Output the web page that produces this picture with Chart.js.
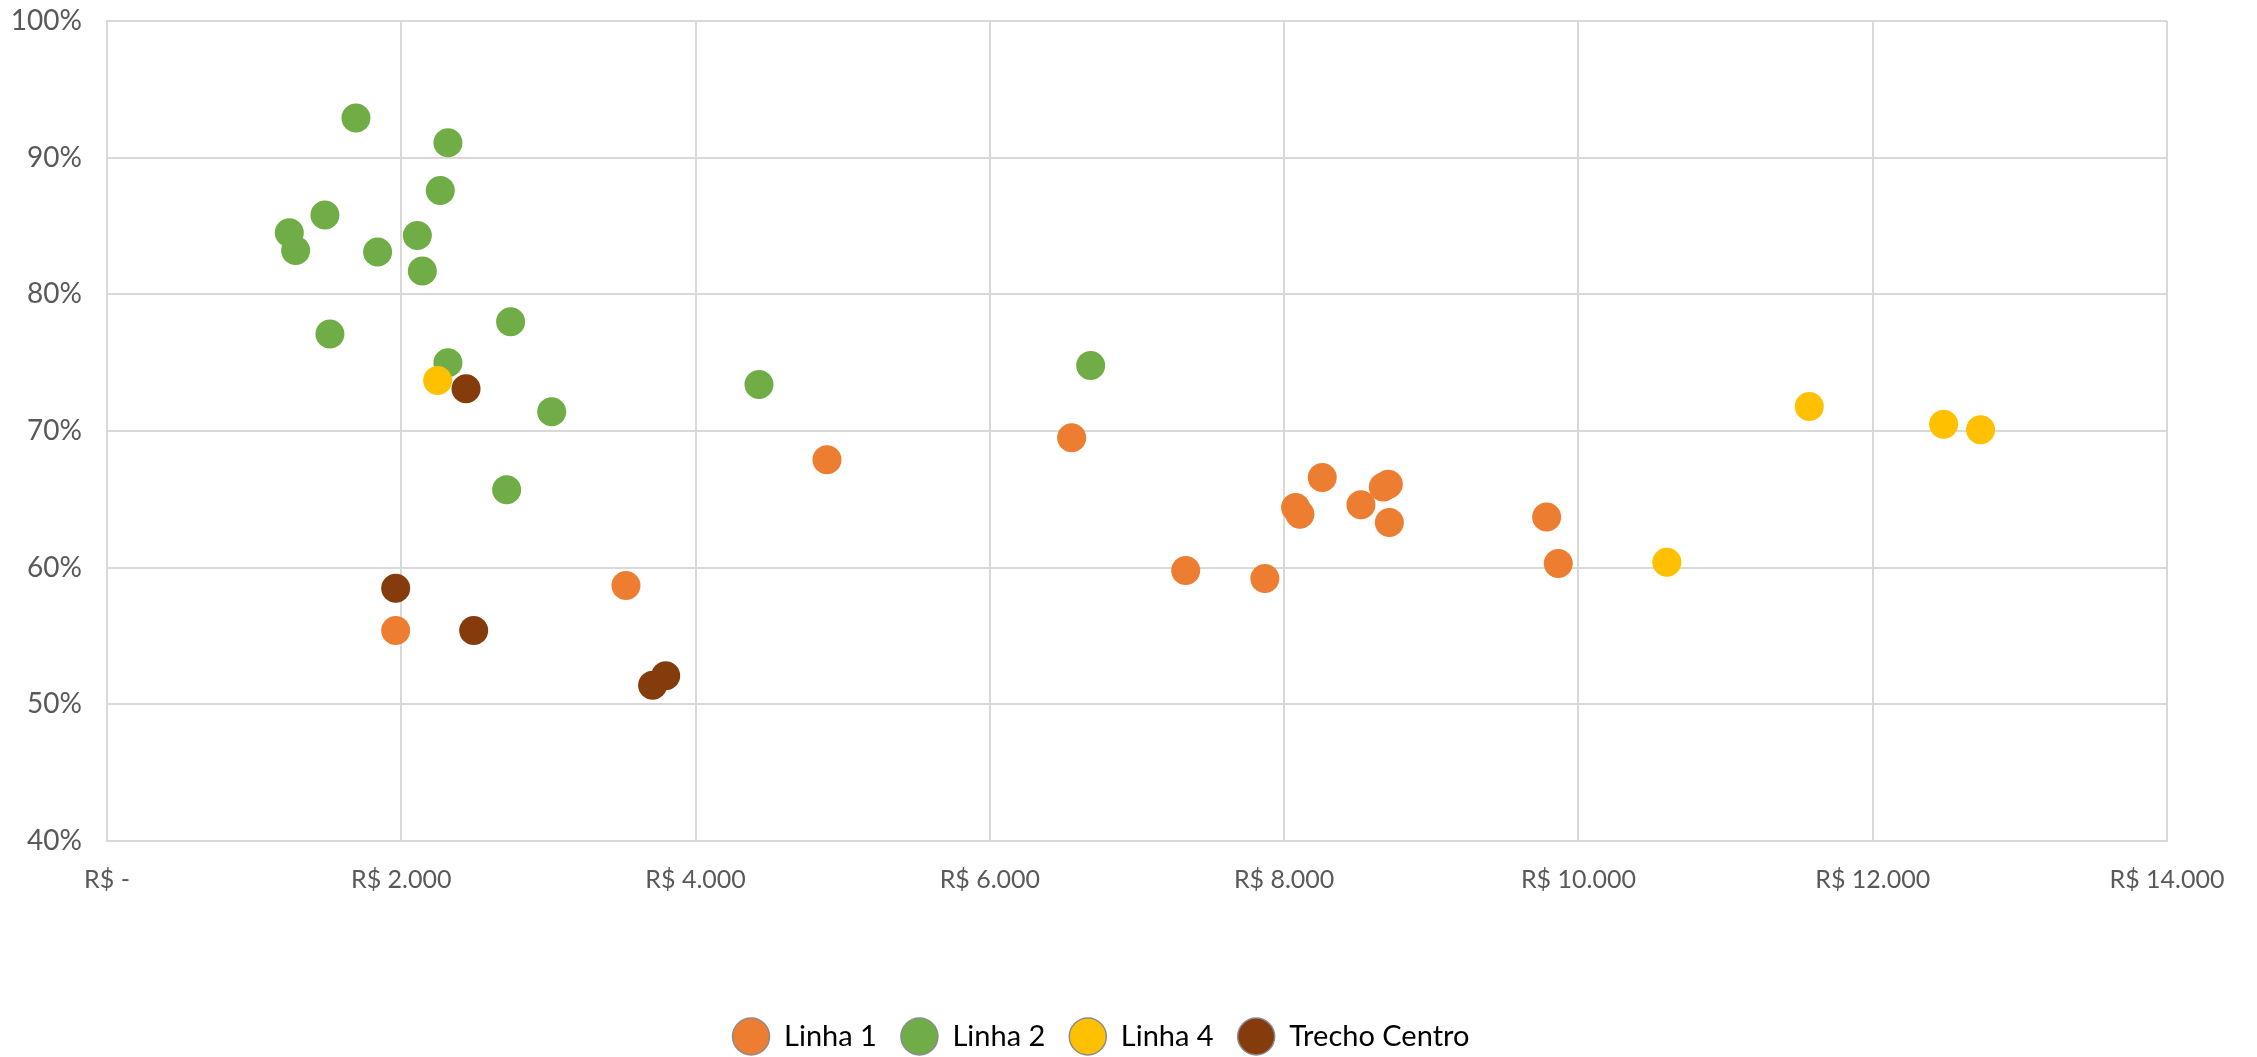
<!DOCTYPE html>
<html>
<head>
<meta charset="utf-8">
<title>Custo x Percentual</title>
<script src="https://cdn.jsdelivr.net/npm/chart.js@4.4.1/dist/chart.umd.min.js"></script>
<style>
  html, body { margin: 0; padding: 0; background: #fff; }
  #wrap { width: 2257px; height: 1057px; }
</style>
</head>
<body>
<div id="wrap"><canvas id="chart"></canvas></div>
<script>
// series values (x = R$, y = %)
const linha1X = [1962, 3527, 4893, 6556, 7331, 7869, 8078, 8107, 8259, 8522, 8674, 8708, 8715, 9784, 9863];
const linha1Y = [55.4, 58.7, 67.9, 69.5, 59.8, 59.2, 64.4, 63.9, 66.6, 64.6, 65.9, 66.1, 63.3, 63.7, 60.3];

const linha2X = [1692, 2317, 2265, 1481, 1239, 1282, 1839, 2109, 2143, 1515, 2743, 2317, 3022, 2716, 4431, 6685];
const linha2Y = [92.9, 91.1, 87.6, 85.8, 84.5, 83.2, 83.1, 84.3, 81.7, 77.1, 78.0, 75.0, 71.4, 65.7, 73.4, 74.8];

const linha4X = [2247, 10601, 11569, 12482, 12733];
const linha4Y = [73.7, 60.4, 71.8, 70.5, 70.1];

const centroX = [2440, 1962, 2492, 3708, 3797];
const centroY = [73.1, 58.5, 55.4, 51.4, 52.1];

const seriesNames = ['Linha 1', 'Linha 2', 'Linha 4', 'Trecho Centro'];
const seriesColors = ['#ED7D31', '#70AD47', '#FFC000', '#843C0C'];

const xTicks = [0, 2000, 4000, 6000, 8000, 10000, 12000, 14000];
const yTicks = [40, 50, 60, 70, 80, 90, 100];

const fontFamily = 'Lato, "Noto Sans", sans-serif';
const gridColor = '#d9d9d9';

function toPoints(xs, ys) {
  return xs.map((x, i) => ({ x, y: ys[i] }));
}

function formatReais(v) {
  if (v === 0) return 'R$ -';
  return 'R$ ' + String(v).replace(/\B(?=(\d{3})+(?!\d))/g, '.');
}

const seriesData = [
  toPoints(linha1X, linha1Y),
  toPoints(linha2X, linha2Y),
  toPoints(linha4X, linha4Y),
  toPoints(centroX, centroY)
];

const datasets = seriesNames.map((name, i) => ({
  label: name,
  data: seriesData[i],
  backgroundColor: seriesColors[i],
  borderWidth: 0,
  pointRadius: 14.5,
  pointHoverRadius: 14.5,
  order: seriesNames.length - i   // later series drawn on top
}));

// legend keeps its horizontal gaps but a short box, so it sits near the bottom
const legendHeight = {
  id: 'legendHeight',
  afterInit(chart) {
    const legend = chart.legend;
    const fit = legend.fit;
    legend.fit = function () {
      fit.call(this);
      this.height = 59;
    };
  },
  afterLayout(chart) {
    // nudge to the same centre as the original
    chart.legend.left += 14;
    chart.legend.right += 14;
  }
};

new Chart(document.getElementById('chart'), {
  type: 'scatter',
  data: { datasets },
  plugins: [legendHeight],
  options: {
    responsive: true,
    maintainAspectRatio: false,
    animation: false,
    layout: { padding: { left: 7, right: 90, top: 21, bottom: 0 } },
    plugins: {
      tooltip: { enabled: false },
      legend: {
        position: 'bottom',
        labels: {
          usePointStyle: true,
          pointStyle: 'circle',
          pointStyleWidth: 37,
          boxHeight: 26,
          padding: 24,
          color: '#000',
          font: { family: fontFamily, size: 29 },
          generateLabels: chart => chart.data.datasets.map((ds, i) => ({
            text: ds.label,
            fillStyle: ds.backgroundColor,
            strokeStyle: '#8c8c8c',
            lineWidth: 1.5,
            pointStyle: 'circle',
            datasetIndex: i,
            hidden: false
          }))
        }
      }
    },
    scales: {
      x: {
        type: 'linear',
        min: 0,
        max: 14000,
        afterBuildTicks: axis => { axis.ticks = xTicks.map(v => ({ value: v })); },
        afterFit: axis => { axis.height = 157; },
        grid: { color: gridColor, lineWidth: 2, drawTicks: false },
        border: { color: gridColor, width: 2 },
        ticks: {
          padding: 24,
          color: '#595959',
          font: { family: fontFamily, size: 25 },
          maxRotation: 0,
          callback: v => formatReais(v)
        }
      },
      y: {
        type: 'linear',
        min: 40,
        max: 100,
        afterBuildTicks: axis => { axis.ticks = yTicks.map(v => ({ value: v })); },
        afterFit: axis => { axis.width = 100; },
        grid: {
          color: gridColor,
          lineWidth: 2,
          drawTicks: true,
          tickLength: 25,
          tickColor: 'rgba(0,0,0,0)'
        },
        border: { color: gridColor, width: 2 },
        ticks: {
          padding: 0,
          color: '#595959',
          font: { family: fontFamily, size: 28 },
          callback: v => v + '%'
        }
      }
    }
  }
});
</script>
</body>
</html>
